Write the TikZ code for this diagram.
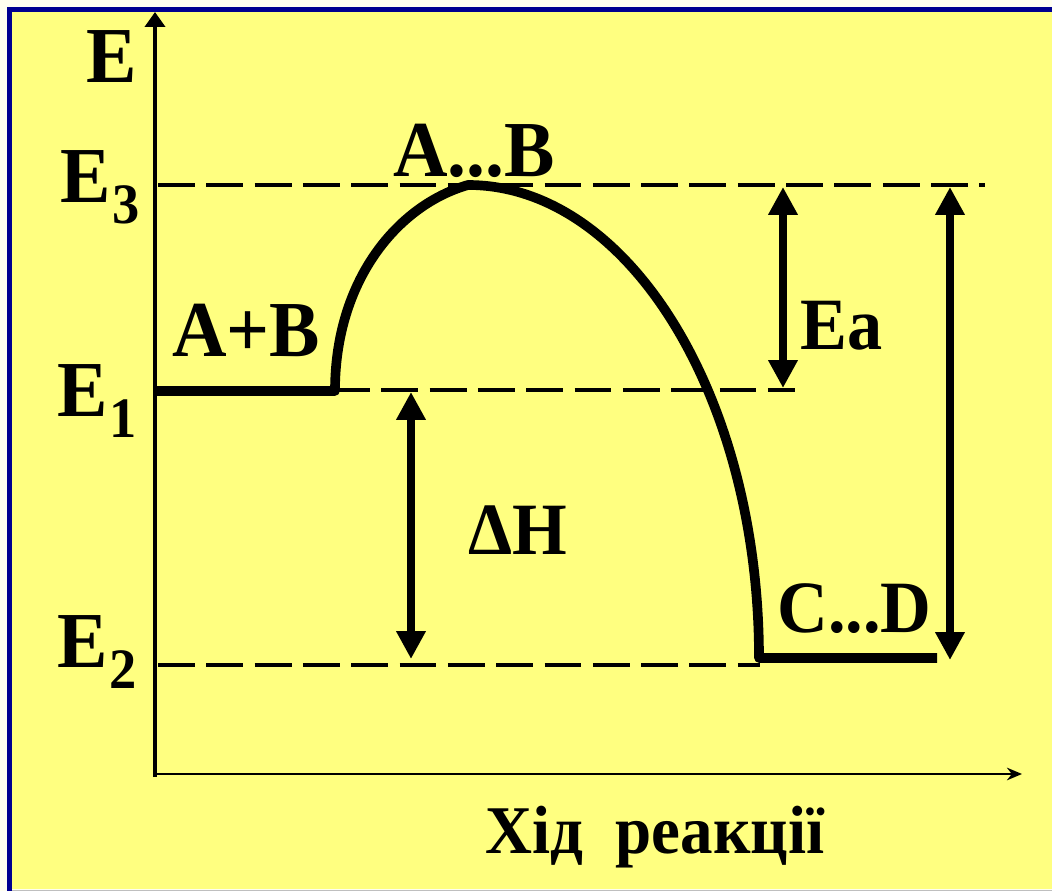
\documentclass[tikz,border=0pt]{standalone}
\usepackage{fontspec}
\setmainfont{Liberation Serif}
\usetikzlibrary{arrows.meta}

% Level label with a lowered index
\newcommand{\Elevel}[1]{E\kern1pt\raisebox{-11pt}{\fontsize{31}{31}\selectfont #1}}

\begin{document}
\begin{tikzpicture}[x=0.02cm, y=-0.02cm,
    lbl/.style={inner sep=0pt, anchor=base west, yscale=1.05, font=\bfseries\fontsize{43}{43}\selectfont},
    smalllbl/.style={lbl, font=\bfseries\fontsize{40}{40}\selectfont},
    levelline/.style={line width=1.9pt, dash pattern=on 21pt off 6.5pt},
    dimarrow/.style={line width=4.5pt, {Triangle[length=0.56cm,width=0.56cm]}-{Triangle[length=0.56cm,width=0.56cm]}}]
    % Define colours
    \definecolor{paperColour}{HTML}{FFFFF0}
    \definecolor{fillColour}{HTML}{FFFF80}
    \definecolor{borderColour}{HTML}{000090}

    % Background and frame
    \useasboundingbox (0,0) rectangle (1052,891);
    \fill[paperColour] (0,0) rectangle (1052,891);
    \fill[fillColour] (7,7) rectangle (1052,889);
    \draw[borderColour, line width=2.8pt] (9.5,891) -- (9.5,9.5) -- (1052,9.5);
    \draw[gray!50, line width=1pt] (12,890.5) -- (1052,890.5);

    % Draw axes
    \draw[line width=2.3pt, -{Triangle[length=0.3cm,width=0.4cm]}] (155,777) -- (155,12);
    \draw[line width=1.7pt, -{Stealth[length=0.3cm,width=0.25cm]}] (153,774) -- (1022,774);

    % Energy levels
    \coordinate (E3) at (155,185);
    \coordinate (E1) at (155,390);
    \coordinate (E2) at (155,665);
    \coordinate (peak) at (468,185);
    \coordinate (start) at (335,391);
    \coordinate (finish) at (759,658);

    % Draw dashed level lines
    \draw[levelline] (E3) ++(3,0) -- (985,185);
    \draw[levelline] (333,390) -- (795,390);
    \draw[levelline] (E2) ++(3,0) -- (760,665);

    % Draw the reaction curve
    \draw[line width=5.5pt, line join=round] (155,391) -- (start)
        .. controls (335,280) and (398,205) .. (peak)
        .. controls (628.7,185) and (759,397) .. (finish) -- (937,658);

    % Draw the energy arrows
    \draw[dimarrow] (783,187) -- (783,388);
    \draw[dimarrow] (411,392) -- (411,659);
    \draw[dimarrow] (950,187) -- (950,660);

    % Labels
    \node[lbl] (axisE) at (86,83) {E};
    \node[lbl] (labE3) at (60,203) {\Elevel{3}};
    \node[lbl] (labE1) at (57,417) {\Elevel{1}};
    \node[lbl] (labE2) at (57,668) {\Elevel{2}};
    \node[lbl] (reagents) at (172,357) {A+B};
    \node[lbl] (complex) at (393,177) {A...B};
    \node[smalllbl] (products) at (777,633) {C...D};
    \node[smalllbl] (labEa) at (800,350) {Ea};
    \node[smalllbl] (labdH) at (468,555) {ΔH};
    \node[lbl, font=\bfseries\fontsize{37}{37}\selectfont] (axisX) at (485,853) {Хід~~реакції};
\end{tikzpicture}
\end{document}
